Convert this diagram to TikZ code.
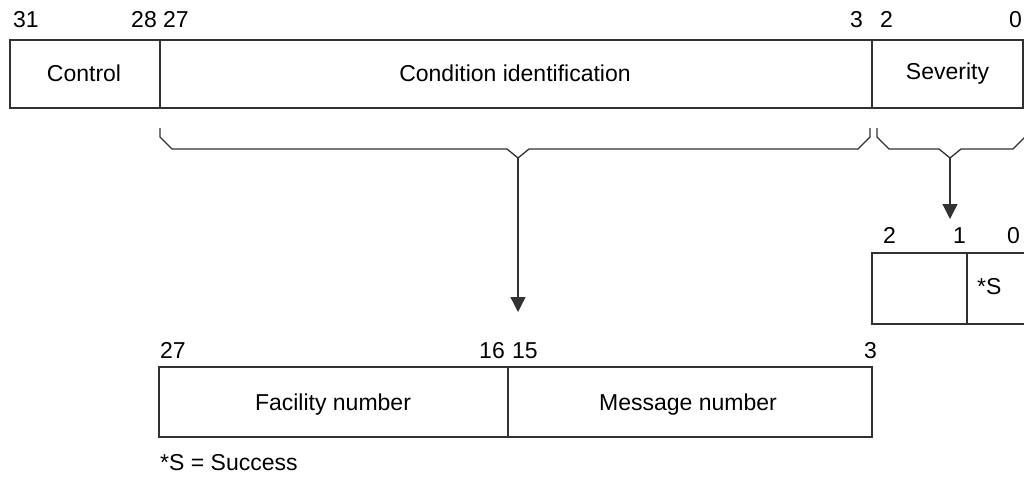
\documentclass[tikz,border=0pt]{standalone}
\usepackage{fontspec}
\setmainfont{Liberation Sans}
\usetikzlibrary{arrows.meta}
\definecolor{linec}{RGB}{50,50,50}
\begin{document}
\begin{tikzpicture}[x=1pt,y=-1pt,
  field/.style={draw=linec,line width=1.3pt,rectangle,inner sep=0pt,outer sep=0pt,minimum height=#1},
  field/.default=68pt,
  lbl/.style={font=\fontsize{23}{27}\selectfont,inner sep=0pt,anchor=base west},
  lblr/.style={font=\fontsize{23}{27}\selectfont,inner sep=0pt,anchor=base east},
  brace/.style={draw=linec,line width=1.3pt,line join=miter},
  arr/.style={draw=linec,line width=1.3pt,-{Triangle[length=15pt,width=15pt]}},
  txt/.style={font=\fontsize{23}{27}\selectfont,inner sep=0pt,anchor=base}]
\useasboundingbox (0,0) rectangle (1024,476);
% top register
\node[field,minimum width=150pt] (ctrl) at (85,74) {};
\node[field,minimum width=712pt] (cond) at (516,74) {};
\node[field,minimum width=151pt] (sev) at (947.5,74) {};
\node[txt] (ctrlt) at (84,82) {Control};
\node[txt] (condt) at (515,82) {Condition identification};
\node[txt] (sevt) at (947.5,80) {Severity};
\node[lbl] (b31) at (13,28) {31};
\node[lblr] (b28) at (157,28) {28};
\node[lbl] (b27) at (163,28) {27};
\node[lblr] (b3) at (863,28) {3};
\node[lbl] (b2) at (880,28) {2};
\node[lbl] (b0) at (1009,28) {0};
% braces
\coordinate (tipA) at (518,158);
\coordinate (tipB) at (950,158);
\draw[brace] (160,128) -- (160,137) -- (172,149) -- (507,149) -- (tipA) -- (529,149) -- (858,149) -- (870,137) -- (870,128);
\draw[brace] (877,128) -- (877,137) -- (889,149) -- (939,149) -- (tipB) -- (961,149) -- (1013,149) -- (1025,137) -- (1025,128);
\coordinate (endA) at (518,312);
\coordinate (endB) at (950,219);
\draw[arr] (tipA) -- (endA);
\draw[arr] (tipB) -- (endB);
% severity detail
\node[field=71pt,minimum width=95pt] (s21) at (919.5,288.5) {};
\node[field=71pt,minimum width=58pt] (s0) at (996,288.5) {};
\node[lbl] (st) at (977,294) {*S};
\node[lbl] (c2) at (883,243) {2};
\node[lbl] (c1) at (953,243) {1};
\node[lbl] (c0) at (1007,243) {0};
% condition detail
\node[field=70pt,minimum width=349pt] (fac) at (333.5,402) {};
\node[field=70pt,minimum width=364pt] (msg) at (690,402) {};
\node[txt] (fact) at (333,410) {Facility number};
\node[txt] (msgt) at (688,410) {Message number};
\node[lbl] (d27) at (160,358) {27};
\node[lblr] (d16) at (505,358) {16};
\node[lbl] (d15) at (512,358) {15};
\node[lblr] (d3) at (877,358) {3};
\node[lbl] (note) at (160,470) {*S = Success};
\end{tikzpicture}
\end{document}
